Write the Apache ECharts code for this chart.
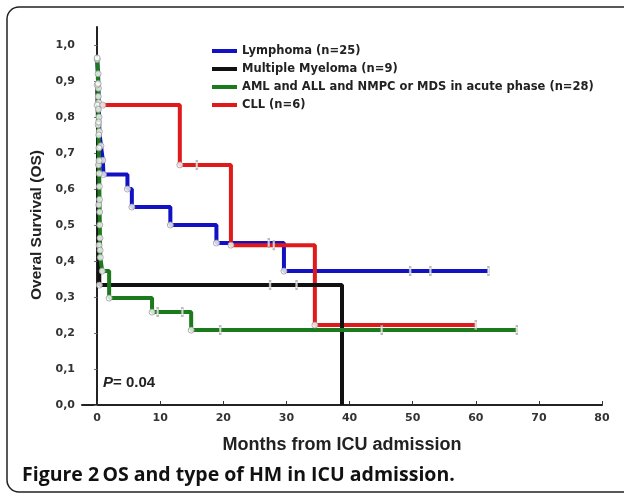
<!DOCTYPE html>
<html><head><meta charset="utf-8">
<script src="https://cdn.jsdelivr.net/npm/echarts@6/dist/echarts.min.js"></script>
<style>html,body{margin:0;padding:0;background:#fff}#c{width:624px;height:497px}</style>
</head><body><div id="c"></div>
<script>
// ---- data ----
const seriesNames = ['Lymphoma (n=25)', 'Multiple Myeloma (n=9)', 'AML and ALL and NMPC or MDS in acute phase (n=28)', 'CLL (n=6)'];
const xTicks = [0, 10, 20, 30, 40, 50, 60, 70, 80];
const yTicks = [0, 0.1, 0.2, 0.3, 0.4, 0.5, 0.6, 0.7, 0.8, 0.9, 1.0];

const lymphomaStart = 0.96;
const lymphomaTimes = [0.15, 0.2, 0.25, 0.3, 0.35, 0.6, 0.9, 1.0, 4.8, 5.5, 11.6, 18.9, 29.6];
const lymphomaSurv  = [0.92, 0.88, 0.84, 0.80, 0.76, 0.72, 0.68, 0.64, 0.60, 0.55, 0.50, 0.45, 0.372];
const lymphomaEnd = 62;
const lymphomaCensor = [27.2, 49.6, 52.8, 62];

const myelomaStart = 0.889;
const myelomaTimes = [0.15, 0.2, 0.25, 0.3, 0.35, 38.8];
const myelomaSurv  = [0.778, 0.667, 0.556, 0.444, 0.333, 0];
const myelomaEnd = 38.8;
const myelomaCensor = [27.4, 31.6];

const amlStart = 0.964;
const amlTimes = [0.15, 0.18, 0.2, 0.22, 0.25, 0.27, 0.3, 0.32, 0.35, 0.37, 0.4, 0.42, 0.45, 0.47, 0.5, 0.8, 1.9, 8.7, 14.9];
const amlSurv  = [0.929, 0.893, 0.857, 0.821, 0.786, 0.750, 0.714, 0.679, 0.643, 0.607, 0.571, 0.536, 0.500, 0.464, 0.430, 0.410, 0.372, 0.297, 0.258, 0.208];
const amlEnd = 66.5;
const amlCensor = [9.6, 13.5, 19.5, 45.1, 66.5];

const cllStart = 0.833;
const cllTimes = [0.9, 13.1, 21.2, 34.5];
const cllSurv  = [0.833, 0.667, 0.444, 0.222];
const cllEnd = 60;
const cllCensor = [15.8, 28.0, 60];

const colors = ['#1212c4', '#111111', '#1b7a1b', '#e01a1a'];
const pValueText = '= 0.04';
const captionBold = 'Figure 2';
const captionRest = 'OS and type of HM in ICU admission.';

// ---- build step curves ----
function pairs(times, surv) {
  const off = surv.length - times.length;
  return times.map((t, i) => [t, surv[i + off]]);
}
function curve(start, times, surv, end) {
  const pts = [[0, start]].concat(pairs(times, surv));
  const last = pts[pts.length - 1];
  if (end > last[0]) pts.push([end, last[1]]);
  return pts;
}
function survAt(start, times, surv, t) {
  let s = start;
  pairs(times, surv).forEach(p => { if (p[0] <= t) s = p[1]; });
  return s;
}
const groups = [
  {start: lymphomaStart, times: lymphomaTimes, surv: lymphomaSurv, end: lymphomaEnd, censor: lymphomaCensor},
  {start: myelomaStart, times: myelomaTimes, surv: myelomaSurv, end: myelomaEnd, censor: myelomaCensor},
  {start: amlStart, times: amlTimes, surv: amlSurv, end: amlEnd, censor: amlCensor},
  {start: cllStart, times: cllTimes, surv: cllSurv, end: cllEnd, censor: cllCensor}
];
const drawOrder = [0, 3, 1, 2];
const series = [];
drawOrder.forEach((gi, k) => {
  const g = groups[gi];
  series.push({
    name: seriesNames[gi], type: 'line', step: 'end', showSymbol: false, symbol: 'none',
    data: curve(g.start, g.times, g.surv, g.end),
    lineStyle: {color: colors[gi], width: 4}, itemStyle: {color: colors[gi]},
    z: 2 + k, animation: false
  });
});
drawOrder.forEach((gi) => {
  const g = groups[gi];
  const ev = [[0, g.start]].concat(pairs(g.times, g.surv)).filter(p => p[1] > 0 && p[1] < 0.99);
  series.push({
    type: 'scatter', symbol: 'circle', symbolSize: 6, z: 10, animation: false,
    data: ev,
    itemStyle: {color: '#fff', borderColor: '#9a9a9a', borderWidth: 1}, silent: true
  });
  series.push({
    type: 'scatter', symbol: 'rect', symbolSize: [2, 8], z: 11, animation: false,
    data: g.censor.map(t => [t, survAt(g.start, g.times, g.surv, t)]),
    itemStyle: {color: '#f4f4f4', borderColor: '#aaa', borderWidth: 0.5}, silent: true
  });
});

const chart = echarts.init(document.getElementById('c'), null, {renderer: 'canvas'});
const fmt = v => v.toFixed(1).replace('.', ',');
chart.setOption({
  animation: false,
  backgroundColor: '#fff',
  grid: {left: 82, right: 22, top: 27, bottom: 92},
  legend: {
    data: seriesNames, orient: 'vertical', left: 207, top: 40, itemGap: 6,
    icon: 'rect', itemWidth: 25, itemHeight: 4,
    textStyle: {fontFamily: 'DejaVu Sans', fontWeight: 'bold', fontSize: 11.5, color: '#222'},
    selectedMode: false
  },
  xAxis: {
    type: 'value', min: -2.4, max: 80,
    name: 'Months from ICU admission', nameLocation: 'middle', nameGap: 31,
    nameTextStyle: {fontFamily: 'Liberation Sans', fontWeight: 'bold', fontSize: 18, color: '#222'},
    axisLine: {lineStyle: {color: '#222', width: 2}},
    axisTick: {show: true, customValues: xTicks, inside: true, length: 4, lineStyle: {color: '#333'}},
    axisLabel: {customValues: xTicks, margin: 8, fontFamily: 'DejaVu Sans', fontWeight: 'bold', fontSize: 11, color: '#333'},
    splitLine: {show: false}
  },
  yAxis: {
    type: 'value', min: 0, max: 1.05,
    name: 'Overal Survival (OS)', nameLocation: 'middle', nameGap: 37,
    nameTextStyle: {fontFamily: 'Liberation Sans', fontWeight: 'bold', fontSize: 15.5, color: '#222', padding: [0, 18, 0, 0]},
    axisLine: {show: true, lineStyle: {color: '#222', width: 2}},
    axisTick: {show: true, customValues: yTicks, length: 3, lineStyle: {color: '#666'}},
    axisLabel: {customValues: yTicks, formatter: fmt, margin: 7, fontFamily: 'DejaVu Sans', fontWeight: 'bold', fontSize: 11, color: '#333'},
    splitLine: {show: false}
  },
  graphic: [
    {type: 'rect', shape: {x: 7, y: 7, width: 640, height: 485, r: 12}, style: {fill: 'none', stroke: '#222', lineWidth: 1.5}, silent: true},
    {type: 'text', left: 103, top: 375, style: {
      text: '{i|P}{n|' + pValueText + '}',
      rich: {i: {fontFamily: 'Liberation Sans', fontStyle: 'italic', fontWeight: 'bold', fontSize: 15, fill: '#222'},
             n: {fontFamily: 'Liberation Sans', fontWeight: 'bold', fontSize: 15, fill: '#222'}}}},
    {type: 'text', left: 22, top: 465, style: {
      text: '{b|' + captionBold + '} {r|' + captionRest + '}',
      rich: {b: {fontFamily: 'Open Sans', fontWeight: 'bold', fontSize: 19.5, fill: '#111'},
             r: {fontFamily: 'Open Sans', fontWeight: 'bold', fontSize: 19.5, fill: '#111'}}}}
  ],
  series: series
});
</script></body></html>
